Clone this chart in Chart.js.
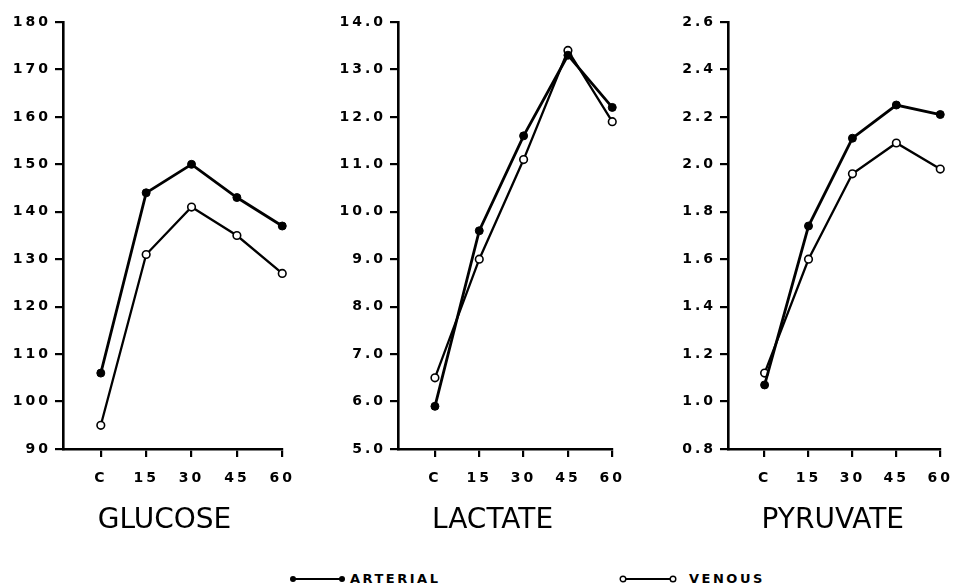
<!DOCTYPE html>
<html>
<head>
<meta charset="utf-8">
<script src="https://cdn.jsdelivr.net/npm/chart.js@4.4.1/dist/chart.umd.min.js"></script>
<style>
  body { margin: 0; background: #fff; }
  #wrap { position: relative; width: 966px; height: 585px; overflow: hidden; background: #fff; }
  canvas { position: absolute; top: 0; }
  .key { position: absolute; top: 571px; height: 15px; display: flex; align-items: center;
         font: bold 13px "DejaVu Sans", sans-serif; letter-spacing: 2.5px; color: #000; }
  .key svg { margin-right: 3px; }
</style>
</head>
<body>
<div id="wrap">
  <canvas id="glucose" width="308" height="540" style="left:0px"></canvas>
  <canvas id="lactate" width="303" height="540" style="left:335px"></canvas>
  <canvas id="pyruvate" width="301" height="540" style="left:665px"></canvas>

  <div class="key" style="left:289px">
    <svg width="58" height="10"><line x1="4" y1="5" x2="53" y2="5" stroke="#000" stroke-width="2"/>
      <circle cx="4" cy="5" r="3" fill="#000"/><circle cx="53" cy="5" r="3" fill="#000"/></svg>
    ARTERIAL
  </div>
  <div class="key" style="left:619px">
    <svg width="60" height="10"><line x1="4" y1="5" x2="54" y2="5" stroke="#000" stroke-width="2"/>
      <circle cx="4" cy="5" r="2.8" fill="#fff" stroke="#000" stroke-width="1.4"/>
      <circle cx="54" cy="5" r="2.8" fill="#fff" stroke="#000" stroke-width="1.4"/></svg>
    &nbsp;VENOUS
  </div>
</div>

<script>
  // sampling times, minutes after start (C = control)
  const timePoints = [0, 15, 30, 45, 60];
  const timeLabels = ['C', '15', '30', '45', '60'];

  const glucoseArterial = [106, 144, 150, 143, 137];
  const glucoseVenous = [95, 131, 141, 135, 127];

  const lactateArterial = [5.9, 9.6, 11.6, 13.3, 12.2];
  const lactateVenous = [6.5, 9.0, 11.1, 13.4, 11.9];

  const pyruvateArterial = [1.07, 1.74, 2.11, 2.25, 2.21];
  const pyruvateVenous = [1.12, 1.60, 1.96, 2.09, 1.98];

  const glucoseTicks = [90, 100, 110, 120, 130, 140, 150, 160, 170, 180];
  const lactateTicks = [5, 6, 7, 8, 9, 10, 11, 12, 13, 14];
  const pyruvateTicks = [0.8, 1.0, 1.2, 1.4, 1.6, 1.8, 2.0, 2.2, 2.4, 2.6];

  const tickFont = { family: '"DejaVu Sans", sans-serif', size: 14, weight: 'bold' };

  // wide spaced lettering on the axis numbers
  const spacing = {
    id: 'spacing',
    beforeUpdate(chart) { chart.ctx.letterSpacing = '3px'; },
    beforeDraw(chart) { chart.ctx.letterSpacing = '3px'; }
  };

  // panel name under the axis, starting at the C tick
  const panelTitle = {
    id: 'panelTitle',
    afterDraw(chart, args, opts) {
      let ctx = chart.ctx;
      let x = chart.scales.x.getPixelForValue(0) - 3;
      ctx.save();
      ctx.letterSpacing = '0px';
      ctx.font = '28px "DejaVu Sans", sans-serif';
      ctx.fillStyle = '#000';
      ctx.textAlign = 'left';
      ctx.textBaseline = 'alphabetic';
      ctx.fillText(opts.text, x, 528);
      ctx.restore();
    }
  };

  function toPoints(values) {
    return values.map((v, i) => ({ x: timePoints[i], y: v }));
  }

  function makePanel(id, name, arterial, venous, yTicks, digits, padRight) {
    let step = yTicks[1] - yTicks[0];
    new Chart(document.getElementById(id), {
      type: 'line',
      data: {
        datasets: [{
          label: 'ARTERIAL',
          data: toPoints(arterial),
          borderColor: '#000',
          borderWidth: 2.8,
          pointRadius: 4,
          pointBackgroundColor: '#000',
          pointBorderColor: '#000',
          pointBorderWidth: 1,
          tension: 0,
          clip: false
        }, {
          label: 'VENOUS',
          data: toPoints(venous),
          borderColor: '#000',
          borderWidth: 2.3,
          pointRadius: 3.8,
          pointBackgroundColor: '#fff',
          pointBorderColor: '#000',
          pointBorderWidth: 1.6,
          tension: 0,
          clip: false
        }]
      },
      options: {
        responsive: false,
        animation: false,
        events: [],
        layout: { padding: { top: 22, right: padRight, left: 0, bottom: 0 } },
        plugins: {
          legend: { display: false },
          tooltip: { enabled: false },
          panelTitle: { text: name }
        },
        scales: {
          x: {
            type: 'linear',
            min: -12.5,
            max: 60,
            afterBuildTicks: (scale) => { scale.ticks = timePoints.map(v => ({ value: v })); },
            afterFit: (scale) => { scale.height = 91; },
            ticks: {
              color: '#000',
              font: tickFont,
              padding: 13,
              maxRotation: 0,
              callback: (v) => timeLabels[timePoints.indexOf(v)]
            },
            grid: { drawOnChartArea: false, drawTicks: true, tickLength: 8, color: '#000', lineWidth: 2.2 },
            border: { display: true, color: '#000', width: 2.6 }
          },
          y: {
            min: yTicks[0],
            max: yTicks[yTicks.length - 1],
            afterBuildTicks: (scale) => { scale.ticks = yTicks.map(v => ({ value: v })); },
            afterFit: (scale) => { scale.width = 63; },
            ticks: {
              color: '#000',
              font: tickFont,
              padding: 4,
              stepSize: step,
              callback: (v) => Number(v).toFixed(digits)
            },
            grid: { drawOnChartArea: false, drawTicks: true, tickLength: 8, color: '#000', lineWidth: 2.2 },
            border: { display: true, color: '#000', width: 2.6 }
          }
        }
      },
      plugins: [spacing, panelTitle]
    });
  }

  makePanel('glucose', 'GLUCOSE', glucoseArterial, glucoseVenous, glucoseTicks, 0, 14);
  makePanel('lactate', 'LACTATE', lactateArterial, lactateVenous, lactateTicks, 1, 14);
  makePanel('pyruvate', 'PYRUVATE', pyruvateArterial, pyruvateVenous, pyruvateTicks, 1, 10);
</script>
</body>
</html>
